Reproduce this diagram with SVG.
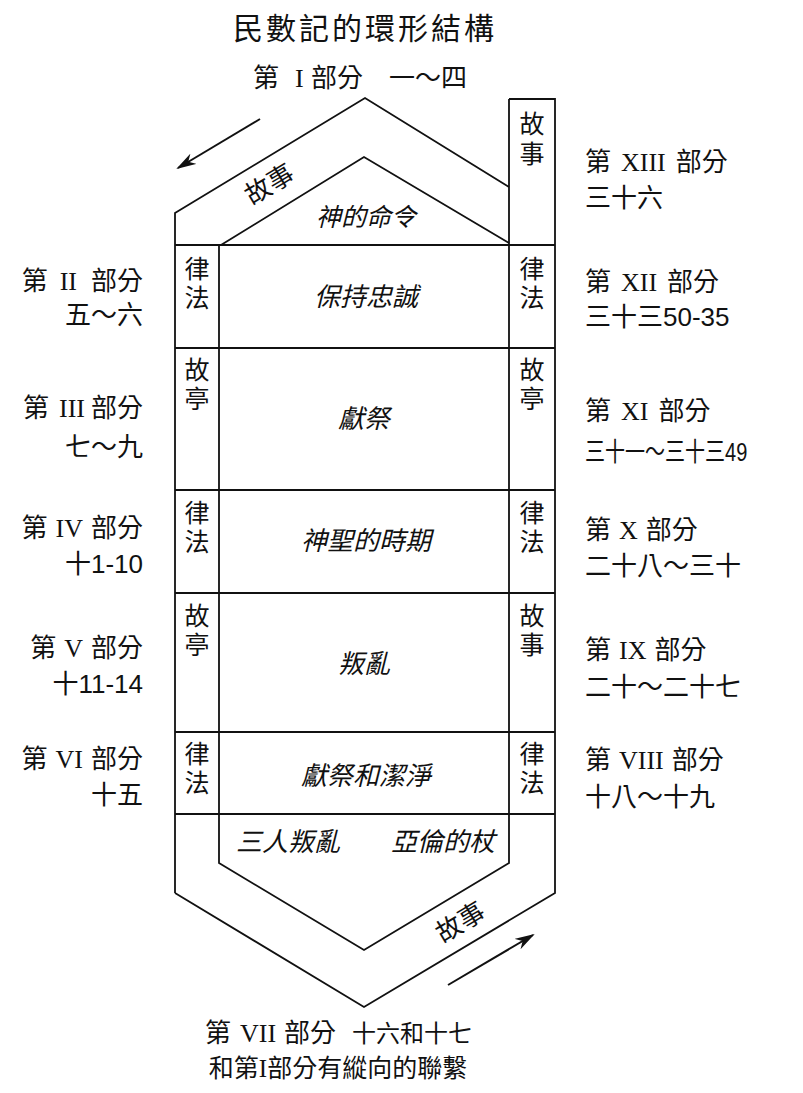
<svg xmlns="http://www.w3.org/2000/svg" width="803" height="1093" viewBox="0 0 803 1093">
<style>
.ln{fill:none;stroke:#111;stroke-width:1.8;stroke-linejoin:miter}
.t{font-family:"Noto Sans CJK TC","Noto Sans CJK SC",sans-serif;font-size:26px;fill:#111}
.it{font-style:italic}
.r{font-family:"Liberation Serif",serif}
.n{font-family:"Liberation Sans",sans-serif}
.m{text-anchor:middle}
.e{text-anchor:end}
.v{font-size:25px;writing-mode:vertical-rl;letter-spacing:4px}
.ar{fill:none;stroke:#111;stroke-width:2}
</style>
<defs>
<marker id="ah" viewBox="0 0 20 12" refX="18" refY="6" markerWidth="20" markerHeight="12" markerUnits="userSpaceOnUse" orient="auto">
<path d="M0,0 L20,6 L0,12 L6,6 Z" fill="#111"/>
</marker>
</defs>
<rect width="803" height="1093" fill="#fff"/>

<g id="title">
<text class="t m" x="365" y="39" style="font-size:30px;letter-spacing:3px">民數記的環形結構</text>
<text class="t" y="87"><tspan x="253">第</tspan><tspan class="r" x="295">I</tspan><tspan x="311">部分</tspan><tspan x="389">一～四</tspan></text>
</g>

<g id="frame">
<path class="ln" d="M175,893 L175,213 L365,98 L509,187"/>
<path class="ln" d="M509,99 L555,99 L555,893 L364,1007 L175,893"/>
<path class="ln" d="M509,99 L509,863 L364,950 L219,863 L219,245"/>
<path class="ln" d="M221,245 L364,157 L509,243"/>
<path class="ln" d="M175,245 L555,245 M175,348 L555,348 M175,490 L555,490 M175,593 L555,593 M175,732 L555,732 M175,814 L555,814"/>
</g>

<g id="part1">
<text class="t m" transform="translate(274,192) rotate(-31)" x="0" y="0">故事</text>
<text class="t it m" x="366" y="226" style="font-size:25px">神的命令</text>
</g>

<g id="part13">
<text class="t v" x="532" y="111" style="letter-spacing:5px">故事</text>
<text class="t" x="585" y="171">第<tspan class="r" dx="10">XIII</tspan><tspan dx="10">部分</tspan></text>
<text class="t" x="585" y="207">三十六</text>
</g>

<g id="row2">
<text class="t v" x="197" y="256">律法</text>
<text class="t it m" x="366" y="306">保持忠誠</text>
<text class="t v" x="532" y="256">律法</text>
<text class="t e" x="143" y="290">第<tspan class="r" dx="12">II</tspan><tspan dx="14">部分</tspan></text>
<text class="t e" x="143" y="324">五～六</text>
<text class="t" x="585" y="291">第<tspan class="r" dx="10">XII</tspan><tspan dx="10">部分</tspan></text>
<text class="t" x="585" y="326">三十三<tspan class="n">50-35</tspan></text>
</g>

<g id="row3">
<text class="t v" x="197" y="357">故亭</text>
<text class="t it m" x="364" y="428">獻祭</text>
<text class="t v" x="532" y="357">故亭</text>
<text class="t e" x="143" y="417">第<tspan class="r" dx="10">III</tspan><tspan dx="6">部分</tspan></text>
<text class="t e" x="143" y="456">七～九</text>
<text class="t" x="585" y="420">第<tspan class="r" dx="10">XI</tspan><tspan dx="10">部分</tspan></text>
<text class="t" transform="translate(585,461) scale(0.77,1)" x="0" y="0">三十一～三十三<tspan class="n">49</tspan></text>
</g>

<g id="row4">
<text class="t v" x="197" y="500">律法</text>
<text class="t it m" x="366" y="550">神聖的時期</text>
<text class="t v" x="532" y="500">律法</text>
<text class="t e" x="143" y="537">第<tspan class="r" dx="8">IV</tspan><tspan dx="8">部分</tspan></text>
<text class="t e" x="143" y="573">十<tspan class="n">1-10</tspan></text>
<text class="t" x="585" y="539">第<tspan class="r" dx="8">X</tspan><tspan dx="8">部分</tspan></text>
<text class="t" x="585" y="575">二十八～三十</text>
</g>

<g id="row5">
<text class="t v" x="197" y="603">故亭</text>
<text class="t it m" x="364" y="673">叛亂</text>
<text class="t v" x="532" y="603">故事</text>
<text class="t e" x="143" y="657">第<tspan class="r" dx="8">V</tspan><tspan dx="8">部分</tspan></text>
<text class="t e" x="143" y="693">十<tspan class="n">11-14</tspan></text>
<text class="t" x="585" y="659">第<tspan class="r" dx="8">IX</tspan><tspan dx="8">部分</tspan></text>
<text class="t" x="585" y="696">二十～二十七</text>
</g>

<g id="row6">
<text class="t v" x="197" y="741">律法</text>
<text class="t it m" x="366" y="785">獻祭和潔淨</text>
<text class="t v" x="532" y="741">律法</text>
<text class="t e" x="143" y="768">第<tspan class="r" dx="8">VI</tspan><tspan dx="8">部分</tspan></text>
<text class="t e" x="143" y="804">十五</text>
<text class="t" x="585" y="769">第<tspan class="r" dx="8">VIII</tspan><tspan dx="8">部分</tspan></text>
<text class="t" x="585" y="806">十八～十九</text>
</g>

<g id="part7">
<text class="t it" x="236" y="851">三人叛亂</text>
<text class="t it" x="391" y="851">亞倫的杖</text>
<text class="t m" transform="translate(465,930) rotate(-31)" x="0" y="0">故事</text>
<text class="t" y="1042"><tspan x="205">第</tspan><tspan class="r" x="240">VII</tspan><tspan x="284">部分</tspan><tspan x="352" style="font-size:24px">十六和十七</tspan></text>
<text class="t m" x="338" y="1077" style="font-size:25px">和第<tspan class="r">I</tspan>部分有縱向的聯繫</text>
</g>

<g id="connectors">
<line class="ar" x1="260" y1="119" x2="178" y2="168" marker-end="url(#ah)"/>
<line class="ar" x1="448" y1="985" x2="533" y2="935" marker-end="url(#ah)"/>
</g>
</svg>
